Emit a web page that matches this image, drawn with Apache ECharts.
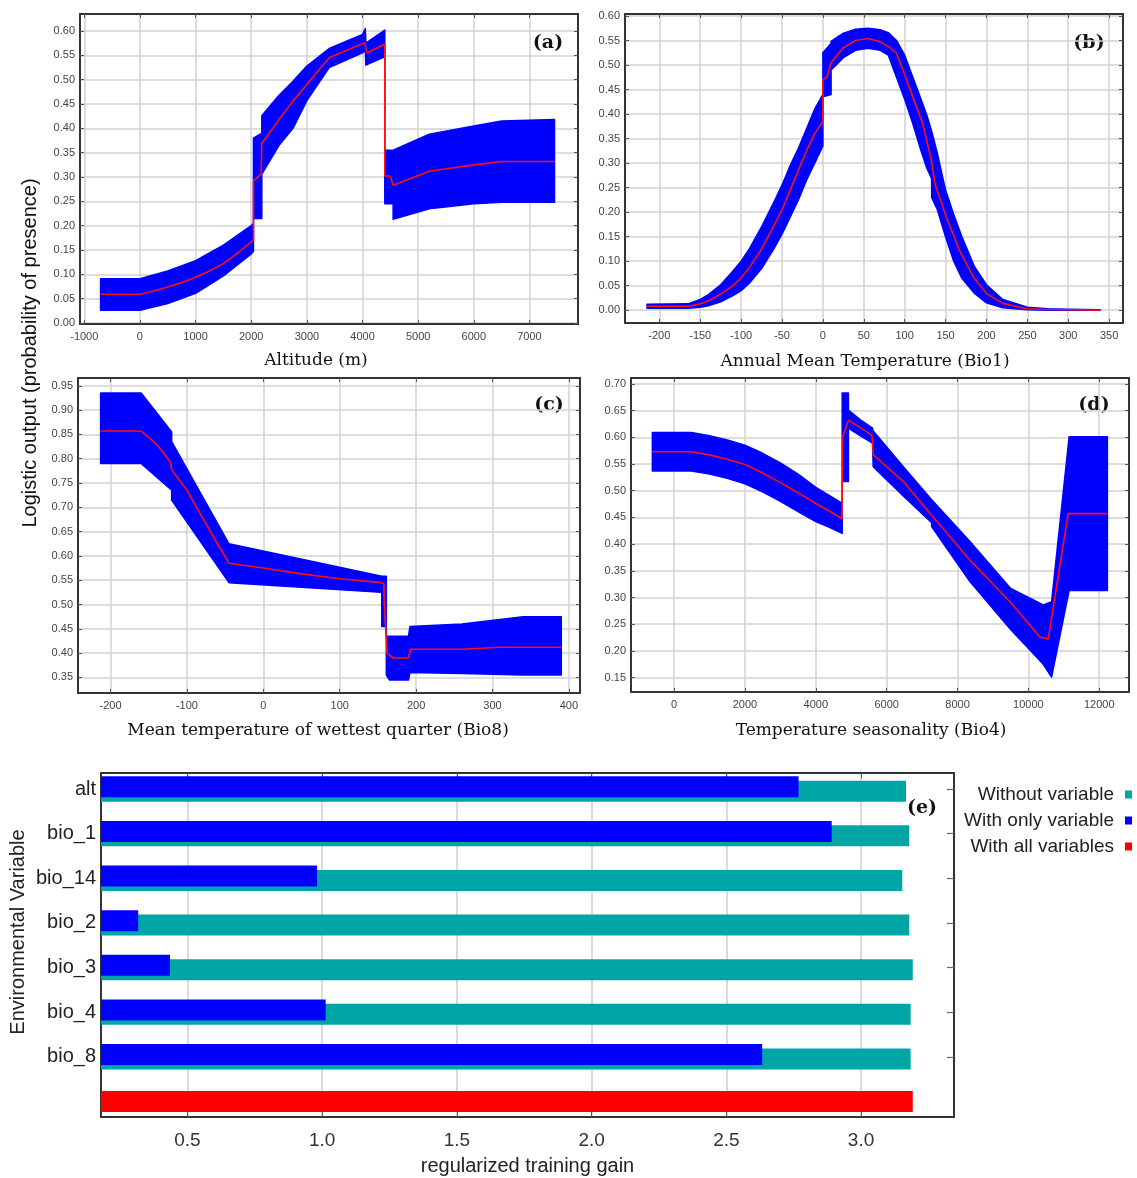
<!DOCTYPE html>
<html><head><meta charset="utf-8">
<script src="https://cdn.jsdelivr.net/npm/echarts@6/dist/echarts.min.js"></script>
<style>html,body{margin:0;padding:0;background:#fff}#c{width:1137px;height:1178px}</style>
</head><body><div id="c"></div>
<script>
// ---------- Panel (a): Altitude ----------
const aBandX    = [-707,0,500,1000,1500,2000,2040,2040,2190,2190,2500,2750,3000,3400,4000,4050,4060,4400,4400,4550,4550,5200,6000,6500,7450];
const aBandLow  = [0.026,0.026,0.040,0.061,0.097,0.142,0.148,0.215,0.215,0.306,0.365,0.400,0.457,0.525,0.555,0.560,0.530,0.547,0.245,0.245,0.213,0.235,0.245,0.248,0.248];
const aBandHigh = [0.091,0.091,0.107,0.128,0.160,0.200,0.205,0.380,0.390,0.426,0.468,0.497,0.528,0.564,0.593,0.605,0.575,0.602,0.355,0.355,0.355,0.388,0.405,0.415,0.418];
const aMeanX    = [-707,0,250,500,750,1000,1250,1500,1750,2000,2040,2040,2180,2190,2500,2750,3000,3400,4040,4080,4400,4400,4500,4530,4550,5200,6000,6500,7450];
const aMean     = [0.059,0.059,0.066,0.074,0.083,0.094,0.107,0.122,0.143,0.167,0.171,0.292,0.306,0.369,0.418,0.456,0.490,0.545,0.576,0.555,0.573,0.302,0.302,0.305,0.283,0.312,0.325,0.332,0.332];
const aXTicks   = [-1000,0,1000,2000,3000,4000,5000,6000,7000];
const aYTicks   = [0,0.05,0.1,0.15,0.2,0.25,0.3,0.35,0.4,0.45,0.5,0.55,0.6];

// ---------- Panel (b): Bio1 ----------
const bBandX    = [-215,-165,-150,-140,-125,-110,-100,-90,-75,-60,-50,-40,-30,-20,-10,0,0,10,10,25,40,55,70,80,90,100,110,120,127,133,133,140,150,160,170,185,200,220,250,275,300,339];
const bBandLow  = [0.004,0.004,0.006,0.009,0.017,0.030,0.040,0.055,0.085,0.125,0.155,0.190,0.225,0.265,0.300,0.335,0.435,0.440,0.490,0.515,0.530,0.534,0.530,0.520,0.475,0.430,0.380,0.325,0.290,0.268,0.230,0.205,0.150,0.100,0.065,0.035,0.015,0.005,0.001,0.000,0.000,0.000];
const bBandHigh = [0.012,0.013,0.022,0.032,0.052,0.080,0.100,0.125,0.170,0.220,0.255,0.295,0.330,0.370,0.410,0.440,0.525,0.544,0.548,0.565,0.573,0.575,0.572,0.566,0.550,0.520,0.475,0.430,0.398,0.365,0.365,0.320,0.245,0.195,0.150,0.090,0.052,0.022,0.006,0.003,0.002,0.001];
const bMeanX    = [-215,-165,-150,-140,-125,-110,-100,-90,-75,-60,-50,-40,-30,-20,-10,0,0,5,10,25,40,55,69,80,90,98,110,122,132.6,137,151,167,184,200,220,249,273,300,339];
const bMean     = [0.008,0.008,0.013,0.019,0.033,0.050,0.066,0.087,0.125,0.172,0.205,0.245,0.285,0.325,0.360,0.385,0.470,0.475,0.505,0.535,0.550,0.554,0.548,0.538,0.524,0.490,0.435,0.381,0.306,0.258,0.190,0.122,0.068,0.034,0.014,0.003,0.0014,0.001,0.000];
const bXTicks   = [-200,-150,-100,-50,0,50,100,150,200,250,300,350];
const bYTicks   = [0,0.05,0.1,0.15,0.2,0.25,0.3,0.35,0.4,0.45,0.5,0.55,0.6];

// ---------- Panel (c): Bio8 ----------
const cBandX    = [-213,-160,-120,-120,-45,155,155,161,161,165,190,192,260,340,390];
const cBandLow  = [0.790,0.790,0.735,0.715,0.545,0.525,0.455,0.455,0.355,0.345,0.345,0.360,0.358,0.355,0.355];
const cBandHigh = [0.935,0.935,0.855,0.835,0.625,0.558,0.558,0.558,0.435,0.435,0.435,0.455,0.460,0.475,0.475];
const cMeanX    = [-213,-160,-140,-121,-120,-100,-80,-60,-45,0,50,100,155,158,158,162,170,190,193,260,310,390];
const cMean     = [0.857,0.857,0.830,0.792,0.777,0.735,0.680,0.625,0.585,0.575,0.563,0.553,0.545,0.542,0.510,0.400,0.390,0.390,0.408,0.408,0.412,0.412];
const cXTicks   = [-200,-100,0,100,200,300,400];
const cYTicks   = [0.35,0.4,0.45,0.5,0.55,0.6,0.65,0.7,0.75,0.8,0.85,0.9,0.95];

// ---------- Panel (d): Bio4 ----------
const dBandX    = [-613,490,1000,1500,2000,2500,3000,3500,4000,4400,4745,4745,4920,4920,5250,5600,5620,6470,7270,7270,8350,9500,10420,10655,11150,12230];
const dBandLow  = [0.537,0.537,0.531,0.523,0.513,0.498,0.480,0.461,0.442,0.431,0.420,0.517,0.517,0.617,0.603,0.589,0.545,0.490,0.440,0.433,0.330,0.240,0.175,0.151,0.313,0.313];
const dBandHigh = [0.609,0.609,0.603,0.595,0.585,0.570,0.552,0.531,0.506,0.490,0.476,0.683,0.683,0.651,0.633,0.617,0.612,0.545,0.483,0.483,0.405,0.317,0.286,0.292,0.601,0.601];
const dMeanX    = [-613,490,1000,1500,2000,2500,3000,3500,4000,4400,4740,4755,4925,5250,5585,5624,6470,7270,8350,9479,10325,10560,11124,12225];
const dMean     = [0.573,0.573,0.567,0.559,0.549,0.533,0.515,0.496,0.476,0.461,0.448,0.600,0.632,0.618,0.604,0.567,0.517,0.454,0.370,0.292,0.226,0.222,0.457,0.457];
const dXTicks   = [0,2000,4000,6000,8000,10000,12000];
const dYTicks   = [0.15,0.2,0.25,0.3,0.35,0.4,0.45,0.5,0.55,0.6,0.65,0.7];

// ---------- Panel (e): jackknife ----------
const eCategories = ['alt','bio_1','bio_14','bio_2','bio_3','bio_4','bio_8',''];
const eWithout    = [3.167,3.179,3.153,3.179,3.192,3.184,3.184,null];
const eWithOnly   = [2.768,2.891,0.981,0.317,0.435,1.013,2.633,null];
const eWithAll    = [null,null,null,null,null,null,null,3.192];
const eXTicks     = [0.5,1.0,1.5,2.0,2.5,3.0];

const grids = [], xAxes = [], yAxes = [], series = [];
const BOX = {show:true, onZero:false, lineStyle:{color:'#333', width:2}};
const TICKFONT = {fontFamily:'Liberation Sans', fontSize:11, color:'#444'};

function panel(g, xr, xt, yr, yt, xname, pad, gap) {
  const gi = grids.length;
  grids.push(Object.assign({outerBoundsMode:'none', containLabel:false}, g));
  const xi = xAxes.length, yi = yAxes.length;
  const tick = v => ({show:true, inside:true, length:4, lineStyle:{color:'#555', width:1}, customValues:v});
  xAxes.push({gridIndex:gi, type:'value', position:'bottom', min:xr[0], max:xr[1], axisLine:BOX, axisTick:tick(xt),
    axisLabel:Object.assign({customValues:xt, margin:7, formatter:v=>String(v)}, TICKFONT),
    splitLine:{show:true, lineStyle:{color:'#d2d2d2', width:1.5}},
    name:xname, nameLocation:'middle', nameGap:gap,
    nameTextStyle:{fontFamily:'DejaVu Serif', fontSize:17, color:'#111', padding:pad}});
  xAxes.push({gridIndex:gi, type:'value', position:'top', min:xr[0], max:xr[1], axisLine:BOX, axisTick:tick(xt),
    axisLabel:{show:false}, splitLine:{show:false}});
  yAxes.push({gridIndex:gi, type:'value', position:'left', min:yr[0], max:yr[1], axisLine:BOX, axisTick:tick(yt),
    axisLabel:Object.assign({customValues:yt, margin:5, formatter:v=>v.toFixed(2)}, TICKFONT),
    splitLine:{show:true, lineStyle:{color:'#d2d2d2', width:1.5}}});
  yAxes.push({gridIndex:gi, type:'value', position:'right', min:yr[0], max:yr[1], axisLine:BOX, axisTick:tick(yt),
    axisLabel:{show:false}, splitLine:{show:false}});
  return [xi, yi];
}

function addCurves(ax, bx, lo, hi, mx, my) {
  series.push({type:'custom', xAxisIndex:ax[0], yAxisIndex:ax[1], silent:true, z:2,
    data:[[bx[0], lo[0]]],
    renderItem:(params, api) => {
      const pts = [];
      for (let i = 0; i < bx.length; i++) pts.push(api.coord([bx[i], hi[i]]));
      for (let i = bx.length - 1; i >= 0; i--) pts.push(api.coord([bx[i], lo[i]]));
      return {type:'polygon', shape:{points:pts}, style:{fill:'#0000ff', stroke:'#0000ff', lineWidth:1.5, lineJoin:'round'}};
    }});
  series.push({type:'line', xAxisIndex:ax[0], yAxisIndex:ax[1], z:3, symbol:'none', silent:true,
    data:mx.map((x,i)=>[x, my[i]]), lineStyle:{color:'#ff1010', width:1.6}});
}

const pa = panel({left:80, top:14, width:498, height:310}, [-1077,7872], aXTicks, [-0.002,0.635], aYTicks, 'Altitude (m)', [0,26,0,0], 28);
addCurves(pa, aBandX, aBandLow, aBandHigh, aMeanX, aMean);
const pb = panel({left:625, top:14, width:498, height:309}, [-242,367], bXTicks, [-0.026,0.604], bYTicks, 'Annual Mean Temperature (Bio1)', [0,18,0,0], 30);
addCurves(pb, bBandX, bBandLow, bBandHigh, bMeanX, bMean);
const pc = panel({left:78, top:378, width:502, height:315}, [-242.6,414.5], cXTicks, [0.318,0.966], cYTicks, 'Mean temperature of wettest quarter (Bio8)', [0,22,0,0], 29);
addCurves(pc, cBandX, cBandLow, cBandHigh, cMeanX, cMean);
const pd = panel({left:631, top:378, width:498, height:314}, [-1216,12840], dXTicks, [0.123,0.711], dYTicks, 'Temperature seasonality (Bio4)', [0,18,0,0], 30);
addCurves(pd, dBandX, dBandLow, dBandHigh, dMeanX, dMean);

// ---- panel (e) box grid ----
const EX = [0.179, 3.345];
const eBox = grids.length;
grids.push({left:101, top:773, width:853, height:344, outerBoundsMode:'none'});
const eTick = {show:true, inside:true, length:5, lineStyle:{color:'#555', width:1}, customValues:eXTicks};
xAxes.push({gridIndex:eBox, type:'value', position:'bottom', min:EX[0], max:EX[1], axisLine:BOX, axisTick:eTick,
  axisLabel:{customValues:eXTicks, margin:14, formatter:v=>v.toFixed(1), fontFamily:'Liberation Sans', fontSize:19, color:'#333'},
  splitLine:{show:true, lineStyle:{color:'#cfcfcf', width:1.5}},
  name:'regularized training gain', nameLocation:'middle', nameGap:39,
  nameTextStyle:{fontFamily:'Liberation Sans', fontSize:20, color:'#222'}});
xAxes.push({gridIndex:eBox, type:'value', position:'top', min:EX[0], max:EX[1], axisLine:BOX, axisTick:eTick, axisLabel:{show:false}, splitLine:{show:false}});
yAxes.push({gridIndex:eBox, type:'value', position:'left', min:0, max:1, axisLine:BOX, axisTick:{show:false}, axisLabel:{show:false}, splitLine:{show:false}});
yAxes.push({gridIndex:eBox, type:'value', position:'right', min:0, max:1, axisLine:BOX, axisTick:{show:false}, axisLabel:{show:false}, splitLine:{show:false}});

// ---- panel (e) bars grid ----
const eBar = grids.length;
grids.push({left:101, top:766.7, width:853, height:357, outerBoundsMode:'none'});
const exBar = xAxes.length;
xAxes.push({gridIndex:eBar, type:'value', min:EX[0], max:EX[1], show:false});
const eyCat = yAxes.length;
yAxes.push({gridIndex:eBar, type:'category', data:eCategories, inverse:true, position:'left',
  axisLine:{show:false, onZero:false}, axisTick:{show:false},
  axisLabel:{margin:5, fontFamily:'Liberation Sans', fontSize:20, color:'#222'}});
yAxes.push({gridIndex:eBar, type:'category', data:eCategories, inverse:true, position:'right',
  axisLine:{show:false, onZero:false}, axisLabel:{show:false},
  axisTick:{show:true, inside:true, length:7, alignWithLabel:true, interval:(i)=>i<7, lineStyle:{color:'#666', width:1.2}}});
const eyRed = yAxes.length;
yAxes.push({gridIndex:eBar, type:'category', data:eCategories, inverse:true, show:false});

series.push({name:'With only variable', type:'bar', xAxisIndex:exBar, yAxisIndex:eyCat, data:eWithOnly,
  barWidth:21, barGap:'-79%', itemStyle:{color:'#0000ff'}, z:4, silent:true});
series.push({name:'Without variable', type:'bar', xAxisIndex:exBar, yAxisIndex:eyCat, data:eWithout,
  barWidth:21, barGap:'-79%', itemStyle:{color:'#00a6a6'}, z:3, silent:true});
series.push({name:'With all variables', type:'bar', xAxisIndex:exBar, yAxisIndex:eyRed, data:eWithAll,
  barWidth:21, itemStyle:{color:'#ff0000'}, z:3, silent:true});

const labelFont = 'bold 19px "DejaVu Serif"';
const graphic = [
  {type:'text', x:30, y:353, rotation:Math.PI/2, style:{text:'Logistic output (probability of presence)', align:'center', verticalAlign:'middle', font:'20px "Liberation Sans"', fill:'#111'}},
  {type:'text', x:18, y:932, rotation:Math.PI/2, style:{text:'Environmental Variable', align:'center', verticalAlign:'middle', font:'20px "Liberation Sans"', fill:'#222'}},
  {type:'text', x:548, y:43, style:{text:'(a)', align:'center', verticalAlign:'middle', font:labelFont, fill:'#111'}},
  {type:'text', x:1089, y:43, style:{text:'(b)', align:'center', verticalAlign:'middle', font:labelFont, fill:'#111'}},
  {type:'text', x:549, y:405, style:{text:'(c)', align:'center', verticalAlign:'middle', font:labelFont, fill:'#111'}},
  {type:'text', x:1094, y:405, style:{text:'(d)', align:'center', verticalAlign:'middle', font:labelFont, fill:'#111'}},
  {type:'text', x:922, y:808, style:{text:'(e)', align:'center', verticalAlign:'middle', font:labelFont, fill:'#111'}}
];

const chart = echarts.init(document.getElementById('c'), null, {renderer:'canvas'});
chart.setOption({
  animation:false,
  backgroundColor:'#fff',
  grid:grids, xAxis:xAxes, yAxis:yAxes, series:series, graphic:graphic,
  legend:{data:['Without variable','With only variable','With all variables'], orient:'vertical', align:'right',
    right:0, top:780, itemWidth:7, itemHeight:8, itemGap:7, icon:'rect', selectedMode:false,
    textStyle:{fontFamily:'Liberation Sans', fontSize:19, lineHeight:19, color:'#222', padding:[0,6,0,0]}}
});
</script></body></html>
